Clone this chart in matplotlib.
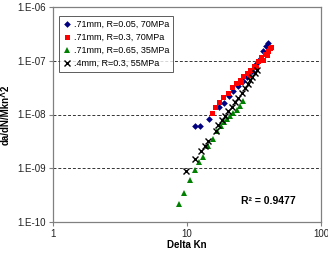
import matplotlib
matplotlib.use('Agg')
import matplotlib.pyplot as plt

plt.rcParams['font.family'] = ['Liberation Sans', 'DejaVu Sans']

# series data
blue_x = [11.4, 12.5, 14.7, 17.2, 18.8, 20.5, 21.9, 24.1, 26.3, 28.2, 30.4, 33.0, 35.0, 37.1, 38.9, 40.4]
blue_y = [6.1e-9, 6.1e-9, 8.4e-9, 1.36e-8, 1.64e-8, 2.18e-8, 2.77e-8, 3.35e-8, 4.15e-8, 5.05e-8, 6.4e-8,
          8.6e-8, 1.1e-7, 1.54e-7, 1.89e-7, 2.1e-7]

red_x = [15.4, 16.2, 17.4, 18.7, 20.1, 21.6, 23.1, 24.9, 26.3, 27.9, 29.5, 31.6, 34.0, 35.9, 37.9, 40.1,
         41.5, 42.1, 25.5, 28.8, 32.5, 36.8, 39.5]
red_y = [1.08e-8, 1.35e-8, 1.69e-8, 2.09e-8, 2.55e-8, 3.2e-8, 3.8e-8, 4.4e-8, 5.1e-8, 5.8e-8, 6.7e-8,
         8.0e-8, 9.9e-8, 1.17e-7, 1.34e-7, 1.52e-7, 1.73e-7, 1.82e-7, 4.0e-8, 5.5e-8, 7.6e-8, 1.05e-7, 1.3e-7]

green_x = [8.76, 9.55, 10.5, 11.4, 12.3, 13.1, 14.4, 15.6, 16.8, 17.9, 18.9, 19.9, 20.9, 22.0, 23.6, 24.9, 26.2]
green_y = [2.14e-10, 3.4e-10, 6.0e-10, 9.2e-10, 1.29e-9, 1.65e-9, 2.65e-9, 3.55e-9, 4.9e-9, 6.1e-9,
           7.2e-9, 8.2e-9, 9.4e-9, 1.07e-8, 1.21e-8, 1.44e-8, 1.78e-8]

black_x = [9.78, 11.5, 12.7, 13.7, 14.4, 16.4, 17.1, 18.2, 19.2, 20.3, 21.6, 22.8, 24.1, 25.6, 27.1,
           28.4, 29.5, 30.7, 32.2, 33.5]
black_y = [8.9e-10, 1.47e-9, 2.05e-9, 2.65e-9, 3.28e-9, 5.0e-9, 6.4e-9, 7.9e-9, 9.5e-9, 1.16e-8, 1.40e-8,
           1.71e-8, 2.05e-8, 2.48e-8, 3.07e-8, 3.69e-8, 4.39e-8, 5.05e-8, 5.84e-8, 6.73e-8]

labels = ['.71mm, R=0.05, 70MPa', '.71mm, R=0.3, 70MPa', '.71mm, R=0.65, 35MPa', '.4mm, R=0.3, 55MPa']

y_ticks = [1e-10, 1e-9, 1e-8, 1e-7, 1e-6]
y_tick_labels = ['1.E-10', '1.E-09', '1.E-08', '1.E-07', '1.E-06']
x_ticks = [1, 10, 100]
x_tick_labels = ['1', '10', '100']
r2_text = 'R² = 0.9477'

fig = plt.figure(figsize=(3.28, 2.56), dpi=100)
ax = fig.add_axes([53 / 328, 1 - 222 / 256, 268 / 328, 215 / 256])

ax.plot(blue_x, blue_y, 'D', color='#000080', ms=3.4, mew=0, label=labels[0])
ax.plot(red_x, red_y, 's', color='#FF0000', ms=3.6, mew=0, label=labels[1])
ax.plot(green_x, green_y, '^', color='#008000', ms=4, mew=0, label=labels[2])
ax.plot(black_x, black_y, 'x', color='black', ms=3.8, mew=1.0, label=labels[3])

ax.set_xscale('log')
ax.set_yscale('log')
ax.set_xlim(1, 100)
ax.set_ylim(1e-10, 1e-6)
ax.set_xticks(x_ticks)
ax.set_xticklabels(x_tick_labels)
ax.set_yticks(y_ticks)
ax.set_yticklabels(y_tick_labels)
ax.minorticks_off()
ax.tick_params(direction='out', length=3, width=0.8, colors='#808080', labelcolor='#222222',
               labelsize=7, pad=2)

for y in y_ticks[1:-1]:
    ax.axhline(y, color='#333333', lw=0.7, ls=(0, (3, 2)), zorder=0)

for s in ax.spines.values():
    s.set_color('#808080')
    s.set_linewidth(0.9)

ax.set_xlabel('Delta Kn', fontsize=7, fontweight='bold', labelpad=1)
ax.set_ylabel('da/dN/Mkn^2', fontsize=7, fontweight='bold', labelpad=5)

leg = ax.legend(loc='upper left', bbox_to_anchor=(0.022, 0.96), fontsize=6.5, frameon=True,
                fancybox=False, handlelength=0.8, handletextpad=0.4, borderpad=0.45,
                labelspacing=0.45, borderaxespad=0)
leg.get_frame().set_edgecolor('#333333')
leg.get_frame().set_linewidth(0.7)

ax.text(0.70, 0.085, r2_text, transform=ax.transAxes, fontsize=7.5, fontweight='bold')

fig.savefig('out.png', dpi=100)
